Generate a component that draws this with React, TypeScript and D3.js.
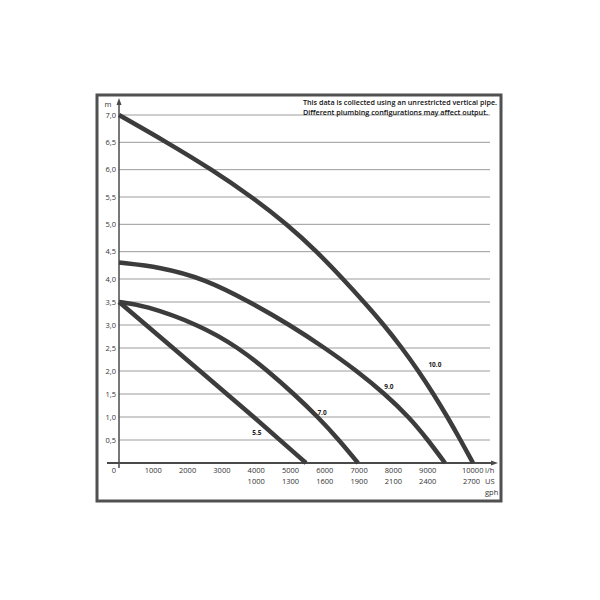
import React from "react";
import * as d3 from "d3";

// ---- data ----
const yTicks = [0.5, 1, 1.5, 2, 2.5, 3, 3.5, 4, 4.5, 5, 5.5, 6, 6.5, 7];
const yTickLabels = ["0,5", "1,0", "1,5", "2,0", "2,5", "3,0", "3,5", "4,0", "4,5", "5,0", "5,5", "6,0", "6,5", "7,0"];
const xTicks = [1000, 2000, 3000, 4000, 5000, 6000, 7000, 8000, 9000, 10000];
const xTickLabels = ["1000", "2000", "3000", "4000", "5000", "6000", "7000", "8000", "9000", "10000"];
const gphTicks = [4000, 5000, 6000, 7000, 8000, 9000, 10000];
const gphLabels = ["1000", "1300", "1600", "1900", "2100", "2400", "2700"];

const seriesNames = ["10.0", "9.0", "7.0", "5.5"];
const flow100 = [0, 1399, 2711, 3878, 4898, 5773, 6531, 7143, 7726, 8251, 8732, 9169, 9577, 9956, 10321];
const head100 = [7.0, 6.5, 6.0, 5.5, 5.0, 4.5, 4.0, 3.5, 3.0, 2.5, 2.0, 1.5, 1.0, 0.5, 0];
const flow90 = [0, 1195, 2507, 3819, 4985, 6006, 6939, 7755, 8455, 9009, 9504];
const head90 = [4.3, 4.22, 4.0, 3.5, 3.0, 2.5, 2.0, 1.5, 1.0, 0.5, 0];
const flow70 = [0, 700, 2362, 3499, 4344, 5102, 5802, 6414, 6968];
const head70 = [3.5, 3.44, 3.0, 2.5, 2.0, 1.5, 1.0, 0.5, 0];
const flow55 = [0, 787, 2362, 3936, 5452];
const head55 = [3.5, 3.0, 2.0, 1.0, 0];
const labelFlow = [9210, 7870, 5920, 4020];
const labelHead = [2.15, 1.66, 1.09, 0.66];

const noteLines = [
  "This data is collected using an unrestricted vertical pipe.",
  "Different plumbing configurations may affect output.",
];

export default function App() {
  const x = d3.scaleLinear().domain([0, 10000]).range([119, 462]);
  const y = d3.scaleLinear().domain([0, 4, 7]).range([463, 279, 115]);

  const series = [
    { f: flow100, h: head100 },
    { f: flow90, h: head90 },
    { f: flow70, h: head70 },
    { f: flow55, h: head55 },
  ];
  const line = d3
    .line<[number, number]>()
    .x((d) => x(d[0]))
    .y((d) => y(d[1]))
    .curve(d3.curveBasis);

  const font = "'Open Sans', 'Liberation Sans', sans-serif";
  const axisColor = "#4a4a4a";
  const curveColor = "#3c3c3c";

  const x0 = x(0);
  const yAxis = y(0);

  return (
    <svg
      width={600}
      height={600}
      style={{ position: "absolute", left: 0, top: 0, background: "#fff" }}
      fontFamily={font}
    >
      <rect x={97} y={95} width={404} height={406} fill="#fff" stroke="#505050" strokeWidth={3} />

      {/* grid */}
      {yTicks.map((v) => (
        <line key={"g" + v} x1={x0} x2={490} y1={y(v)} y2={y(v)} stroke="#9c9c9c" strokeWidth={1} />
      ))}

      {/* y labels */}
      {yTicks.map((v, i) => (
        <text key={"yl" + v} x={116} y={y(v) + 2.8} fontSize={7.5} textAnchor="end" fill="#333">
          {yTickLabels[i]}
        </text>
      ))}
      <text x={108} y={107} fontSize={7.5} textAnchor="middle" fill="#333">m</text>

      {/* axes */}
      <line x1={x0} x2={x0} y1={468} y2={101} stroke={axisColor} strokeWidth={1.5} />
      <path d={`M${x0 - 2.5},${105} L${x0},${98} L${x0 + 2.5},${105} Z`} fill={axisColor} />
      <line x1={107} x2={493} y1={yAxis} y2={yAxis} stroke={axisColor} strokeWidth={1.8} />
      <path d={`M${491},${yAxis - 2.5} L${498},${yAxis} L${491},${yAxis + 2.5} Z`} fill={axisColor} />

      {/* x labels */}
      <text x={114} y={473} fontSize={7.5} textAnchor="middle" fill="#333">0</text>
      {xTicks.map((v, i) => (
        <text
          key={"xl" + v}
          x={x(v)}
          y={473}
          fontSize={7.5}
          textAnchor={i === xTicks.length - 1 ? "start" : "middle"}
          fill="#333"
        >
          {xTickLabels[i]}
        </text>
      ))}
      {gphTicks.map((v, i) => (
        <text
          key={"gl" + v}
          x={x(v) + (i === gphTicks.length - 1 ? 1 : 0)}
          y={484}
          fontSize={7.5}
          textAnchor={i === gphTicks.length - 1 ? "start" : "middle"}
          fill="#333"
        >
          {gphLabels[i]}
        </text>
      ))}
      <text x={485} y={473} fontSize={7.5} fill="#333">l/h</text>
      <text x={485} y={484} fontSize={7.5} fill="#333">US</text>
      <text x={485} y={495} fontSize={7.5} fill="#333">gph</text>

      {/* curves */}
      {series.map((s, i) => (
        <path
          key={"c" + i}
          d={line(s.f.map((f, j) => [f, s.h[j]] as [number, number])) || ""}
          fill="none"
          stroke={curveColor}
          strokeWidth={4.5}
          strokeLinecap="butt"
          strokeLinejoin="round"
        />
      ))}
      {seriesNames.map((n, i) => (
        <text
          key={"sl" + n}
          x={x(labelFlow[i])}
          y={y(labelHead[i]) + 2.5}
          fontSize={6.5}
          fontWeight="bold"
          textAnchor="middle"
          fill="#222"
        >
          {n}
        </text>
      ))}

      {/* note */}
      {noteLines.map((t, i) => (
        <text
          key={"n" + i}
          x={303}
          y={105 + i * 10}
          fontSize={7.5}
          fontWeight={600}
          fill="#111"
          textLength={i === 0 ? 194 : 185}
          lengthAdjust="spacingAndGlyphs"
        >
          {t}
        </text>
      ))}
    </svg>
  );
}
